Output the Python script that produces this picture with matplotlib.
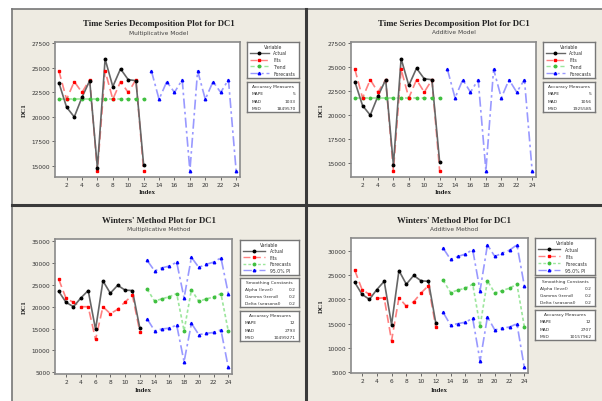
import matplotlib
matplotlib.use("Agg")
from matplotlib import pyplot as plt
from matplotlib.patches import Rectangle
from matplotlib.lines import Line2D

# ---- data ----
idx = list(range(1, 13))
idx_fc = list(range(13, 25))

actual = [23500, 21000, 20000, 22000, 23700, 14800, 25900, 23100, 24900, 23800, 23700, 15100]

# decomposition, multiplicative
dm_fits = [24700, 21800, 23600, 22500, 23800, 14500, 24700, 21800, 23600, 22500, 23800, 14500]
dm_trend = [21850] * 12
dm_fc = [24700, 21800, 23600, 22500, 23800, 14500, 24700, 21800, 23600, 22500, 23800, 14500]

# decomposition, additive
da_fits = [24800, 21800, 23700, 22400, 23700, 14200, 24800, 21800, 23700, 22400, 23700, 14200]
da_trend = [21750] * 12
da_fc = [24800, 21800, 23700, 22400, 23700, 14200, 24800, 21800, 23700, 22400, 23700, 14200]

# winters, multiplicative
wm_fits = [26300, 21900, 21000, 20000, 20000, 12500, 20000, 18400, 19400, 21100, 22600, 14300]
wm_fc = [24000, 21300, 21800, 22300, 23000, 14500, 23900, 21200, 21800, 22200, 23000, 14400]
wm_up = [30600, 28200, 28900, 29300, 30200, 22000, 31300, 29000, 29700, 30200, 31200, 23000]
wm_lo = [17200, 14500, 14900, 15100, 15800, 7400, 16200, 13600, 13900, 14100, 14700, 6100]

# winters, additive
wa_fits = [26000, 22000, 21000, 20200, 20300, 11500, 20300, 18600, 19500, 21300, 22800, 14300]
wa_fc = [23900, 21400, 21900, 22300, 23100, 14500, 23800, 21300, 21800, 22300, 23100, 14400]
wa_up = [30500, 28200, 28800, 29300, 30200, 21800, 31200, 28800, 29500, 30100, 31200, 22800]
wa_lo = [17300, 14700, 15000, 15300, 16100, 7300, 16400, 13700, 14100, 14300, 15000, 6000]

acc_dm = [("MAPE", "5"), ("MAD", "1033"), ("MSD", "1849570")]
acc_da = [("MAPE", "5"), ("MAD", "1056"), ("MSD", "1925585")]
acc_wm = [("MAPE", "12"), ("MAD", "2793"), ("MSD", "10499271")]
acc_wa = [("MAPE", "12"), ("MAD", "2707"), ("MSD", "10157962")]
smooth = [("Alpha (level)", "0.2"), ("Gamma (trend)", "0.2"), ("Delta (seasonal)", "0.2")]

W, H = 602, 402
BG = "#EEEBE2"

fig = plt.figure(figsize=(W / 100, H / 100), dpi=100)
fig.patch.set_facecolor("white")


def frac(l, t, r, b):
    return [l / W, 1 - b / H, (r - l) / W, (b - t) / H]


def px(x, y):
    return x / W, 1 - y / H


# beige panel background and borders
fig.patches.append(Rectangle(px(12, 402), (W - 12) / W, (402 - 10) / H,
                             transform=fig.transFigure, facecolor=BG, edgecolor="none", zorder=-10))
fig.lines.append(Line2D([12 / W, 12 / W], [0, 1 - 10 / H], transform=fig.transFigure, color="#777777", lw=1.2))
fig.lines.append(Line2D([12 / W, 1], [1 - 10 / H, 1 - 10 / H], transform=fig.transFigure, color="#777777", lw=1.2))
fig.lines.append(Line2D([306 / W, 306 / W], [0, 1 - 10 / H], transform=fig.transFigure, color="#3a3a3a", lw=2.2))
fig.lines.append(Line2D([12 / W, 1], [1 - 206 / H, 1 - 206 / H], transform=fig.transFigure, color="#3a3a3a", lw=2.2))

STY = {
    "Actual": dict(color="#666666", mc="black", ls="-", marker="o"),
    "Fits": dict(color="#FF8080", mc="red", ls=(0, (5, 2.5)), marker="s"),
    "Trend": dict(color="#9CE69C", mc="#40C040", ls=(0, (3, 2)), marker="o"),
    "Forecasts": dict(color="#9999FF", mc="blue", ls=(0, (6, 2, 1.5, 2)), marker="^"),
    "95.0% PI": dict(color="#9999FF", mc="blue", ls=(0, (6, 2, 1.5, 2)), marker="^"),
}
STY_WF = dict(color="#9CE69C", mc="#40C040", ls=(0, (2, 1.5)), marker="o")


def series(ax, x, y, st):
    ax.plot(x, y, color=st["color"], ls=st["ls"], lw=1.2, zorder=2)
    ax.plot(x, y, ls="none", marker=st["marker"], ms=1.8, color=st["mc"], zorder=3)


def main_axes(rect, ylim, yticks, title, sub, tcx, ty, xl_y, yl_x):
    ax = fig.add_axes(frac(*rect))
    ax.set_xlim(0.5, 24.5)
    ax.set_ylim(*ylim)
    ax.set_xticks(range(2, 25, 2))
    ax.set_yticks(yticks)
    ax.tick_params(labelsize=4.2, length=2, width=0.5, pad=1.5, colors="#333333")
    for s in ax.spines.values():
        s.set_color("#8a8a8a")
        s.set_linewidth(1.2)
    ax.set_facecolor("white")
    fig.text(*px(tcx, ty), title, ha="center", va="center", fontsize=6.3,
             fontweight="bold", family="Liberation Serif", color="#222222")
    fig.text(*px(tcx, ty + 9), sub, ha="center", va="center", fontsize=4.2, color="#444444")
    fig.text(*px((rect[0] + rect[2]) / 2, xl_y), "Index", ha="center", va="center",
             fontsize=5, fontweight="bold", family="Liberation Serif", color="#222222")
    fig.text(*px(yl_x, (rect[1] + rect[3]) / 2), "DC1", ha="center", va="center", rotation=90,
             fontsize=5, fontweight="bold", family="Liberation Serif", color="#222222")
    return ax


def box(rect):
    b = fig.add_axes(frac(*rect))
    b.set_xlim(0, 1)
    b.set_ylim(0, 1)
    b.set_xticks([])
    b.set_yticks([])
    b.set_facecolor("white")
    for s in b.spines.values():
        s.set_color("#777777")
        s.set_linewidth(1.0)
    return b


def var_box(rect, names, styles):
    b = box(rect)
    b.text(0.5, 0.88, "Variable", ha="center", va="center", fontsize=3.3, color="#333333")
    for i, (nm, st) in enumerate(zip(names, styles)):
        y = 0.7 - i * 0.19
        b.plot([0.05, 0.42], [y, y], color=st["color"], ls=st["ls"], lw=1.0)
        b.plot([0.235], [y], marker=st["marker"], ms=1.8, color=st["mc"])
        b.text(0.5, y, nm, ha="left", va="center", fontsize=3.3, color="#333333")


def table_box(rect, head, rows):
    b = box(rect)
    n = len(rows) + 1
    step = 1 / (n + 0.2)
    b.text(0.5, 1 - step * 0.6, head, ha="center", va="center", fontsize=3.2, color="#333333")
    for i, (k, v) in enumerate(rows):
        y = 1 - step * (i + 1.6)
        b.text(0.08, y, k, ha="left", va="center", fontsize=3.2, color="#333333")
        b.text(0.94, y, v, ha="right", va="center", fontsize=3.2, color="#333333")


# ---- top left: decomposition multiplicative ----
ax = main_axes((55, 43, 240, 178), (13880, 27640), range(15000, 27501, 2500),
               "Time Series Decomposition Plot for DC1", "Multiplicative Model", 159, 24, 193, 24)
series(ax, idx, dm_trend, STY["Trend"])
series(ax, idx, dm_fits, STY["Fits"])
series(ax, idx, actual, STY["Actual"])
series(ax, idx_fc, dm_fc, STY["Forecasts"])
var_box((247, 43, 299, 79), ["Actual", "Fits", "Trend", "Forecasts"],
        [STY["Actual"], STY["Fits"], STY["Trend"], STY["Forecasts"]])
table_box((247, 83, 299, 113), "Accuracy Measures", acc_dm)

# ---- top right: decomposition additive ----
ax = main_axes((351, 43, 536, 178), (13540, 27640), range(15000, 27501, 2500),
               "Time Series Decomposition Plot for DC1", "Additive Model", 454, 24, 193, 321)
series(ax, idx, da_trend, STY["Trend"])
series(ax, idx, da_fits, STY["Fits"])
series(ax, idx, actual, STY["Actual"])
series(ax, idx_fc, da_fc, STY["Forecasts"])
var_box((543, 43, 595, 79), ["Actual", "Fits", "Trend", "Forecasts"],
        [STY["Actual"], STY["Fits"], STY["Trend"], STY["Forecasts"]])
table_box((543, 83, 595, 113), "Accuracy Measures", acc_da)

# ---- bottom left: winters multiplicative ----
ax = main_axes((55, 240, 232, 375), (4600, 35500), range(5000, 35001, 5000),
               "Winters' Method Plot for DC1", "Multiplicative Method", 159, 221, 391, 24)
series(ax, idx, wm_fits, STY["Fits"])
series(ax, idx, actual, STY["Actual"])
series(ax, idx_fc, wm_fc, STY_WF)
series(ax, idx_fc, wm_up, STY["95.0% PI"])
series(ax, idx_fc, wm_lo, STY["95.0% PI"])
var_box((240, 241, 299, 276), ["Actual", "Fits", "Forecasts", "95.0% PI"],
        [STY["Actual"], STY["Fits"], STY_WF, STY["95.0% PI"]])
table_box((240, 279, 299, 308), "Smoothing Constants", smooth)
table_box((240, 312, 299, 342), "Accuracy Measures", acc_wm)

# ---- bottom right: winters additive ----
ax = main_axes((351, 239, 528, 374), (4860, 32600), range(5000, 30001, 5000),
               "Winters' Method Plot for DC1", "Additive Method", 454, 221, 391, 321)
series(ax, idx, wa_fits, STY["Fits"])
series(ax, idx, actual, STY["Actual"])
series(ax, idx_fc, wa_fc, STY_WF)
series(ax, idx_fc, wa_up, STY["95.0% PI"])
series(ax, idx_fc, wa_lo, STY["95.0% PI"])
var_box((535, 239, 595, 276), ["Actual", "Fits", "Forecasts", "95.0% PI"],
        [STY["Actual"], STY["Fits"], STY_WF, STY["95.0% PI"]])
table_box((535, 278, 595, 307), "Smoothing Constants", smooth)
table_box((535, 311, 595, 341), "Accuracy Measures", acc_wa)

fig.savefig("out.png", dpi=100, facecolor=fig.get_facecolor())
